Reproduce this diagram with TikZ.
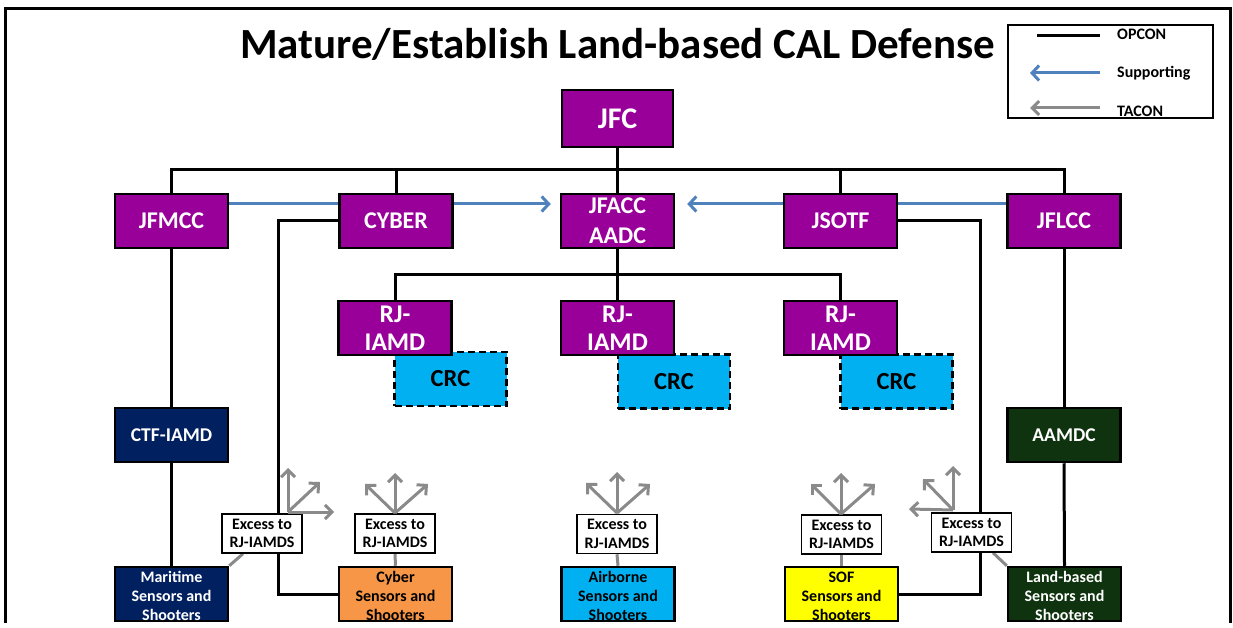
\documentclass[tikz,border=0pt]{standalone}
\usepackage{fontspec}
\setmainfont{Carlito}
\usetikzlibrary{arrows.meta,calc}
\definecolor{jpurple}{HTML}{990099}
\definecolor{jnavy}{HTML}{002060}
\definecolor{jgreen}{HTML}{0E330E}
\definecolor{jcyan}{HTML}{00B0F0}
\definecolor{jorange}{HTML}{F79646}
\definecolor{jyellow}{HTML}{FFFF00}
\definecolor{jblue}{HTML}{4F81BD}
\definecolor{jgray}{HTML}{8A8A8A}
\pgfdeclarelayer{background}
\pgfsetlayers{background,main}
\newcommand{\bottxt}[1]{\smash{\raisebox{-8.5pt}{\begin{tabular}{@{}c@{}}#1\end{tabular}}}}
\begin{document}
\begin{tikzpicture}[x=1pt,y=-1pt,
  boxbase/.style={draw=black,line width=2.5pt,inner sep=0pt,align=center,minimum width=113pt,minimum height=54pt},
  pbox/.style={boxbase,fill=jpurple,text=white,font=\bfseries\fontsize{24}{30}\selectfont},
  crcbox/.style={boxbase,fill=jcyan,text=black,dash pattern=on 7pt off 4pt,font=\bfseries\fontsize{24.5}{28}\selectfont,minimum width=112pt},
  midbox/.style={boxbase,text=white,font=\bfseries\fontsize{19.5}{22}\selectfont},
  sbox/.style={boxbase,font=\bfseries\fontsize{16}{19}\selectfont},
  excbox/.style={draw=black,line width=1.5pt,fill=white,inner sep=0pt,align=center,minimum width=80pt,minimum height=39pt,font=\bfseries\fontsize{16}{18.5}\selectfont},
  opcon/.style={draw=black,line width=3pt},
  support/.style={draw=jblue,line width=3pt,-{Straight Barb[length=7pt,width=15pt,line width=3pt]}},
  tacon/.style={draw=jgray,line width=3pt,-{Straight Barb[length=7pt,width=14pt,line width=3pt]}},
  taconline/.style={draw=jgray,line width=3pt},
  legtext/.style={anchor=west,inner sep=0pt,font=\bfseries\fontsize{16}{18}\selectfont}
]
\useasboundingbox (0,0) rectangle (1233,628);
\begin{scope}
\clip (-2,-2) rectangle (1235,622.5);
% frame
\draw[line width=3pt] (5.5,628) -- (5.5,8.5) -- (1230,8.5) -- (1230,628);
% title
\node[font=\bfseries\fontsize{43}{46}\selectfont,inner sep=0pt] (title) at (617.5,44) {Mature/Establish Land-based CAL Defense};
% legend
\node[draw=black,line width=1.5pt,minimum width=205pt,minimum height=93pt,inner sep=0pt] (legend) at (1110.5,71.5) {};
\coordinate (l1a) at (1037,36); \coordinate (l1b) at (1100,36);
\coordinate (l2a) at (1100,73); \coordinate (l2b) at (1030,73);
\coordinate (l3a) at (1100,108); \coordinate (l3b) at (1030,108);
\draw[opcon] (l1a) -- (l1b);
\draw[support] (l2a) -- (l2b);
\draw[tacon] (l3a) -- (l3b);
\node[legtext] (lop) at (1117,34) {OPCON};
\node[legtext] (lsu) at (1117,73) {Supporting};
\node[legtext] (lta) at (1117,111) {TACON};
% top
\node[pbox,font=\bfseries\fontsize{30}{34}\selectfont,minimum width=111pt,minimum height=57pt] (jfc) at (617.5,118.5) {JFC};
\node[pbox] (jfmcc) at (171.5,221) {JFMCC};
\node[pbox] (cyber) at (396,221) {CYBER};
\node[pbox] (jfacc) at (617.5,221) {JFACC\\AADC};
\node[pbox] (jsotf) at (840.5,221) {JSOTF};
\node[pbox] (jflcc) at (1064,221) {JFLCC};
% CRC then RJ
\node[crcbox] (crc1) at (450.5,379) {CRC};
\node[crcbox] (crc2) at (674,381.5) {CRC};
\node[crcbox] (crc3) at (896.5,381.5) {CRC};
\node[pbox,font=\bfseries\fontsize{25.5}{28}\selectfont] (rj1) at (395,328) {RJ-\\IAMD};
\node[pbox,font=\bfseries\fontsize{25.5}{28}\selectfont] (rj2) at (617.5,328) {RJ-\\IAMD};
\node[pbox,font=\bfseries\fontsize{25.5}{28}\selectfont] (rj3) at (840.5,328) {RJ-\\IAMD};
% middle
\node[midbox,fill=jnavy] (ctf) at (171.5,435) {CTF-IAMD};
\node[midbox,fill=jgreen] (aamdc) at (1064,435) {AAMDC};
% bottom
\node[sbox,fill=jnavy,text=white] (mar) at (171.5,594) {\bottxt{Maritime\\Sensors and\\Shooters}};
\node[sbox,fill=jorange,text=black] (cyss) at (395.5,594) {\bottxt{Cyber\\Sensors and\\Shooters}};
\node[sbox,fill=jcyan,text=black] (air) at (618,594) {\bottxt{Airborne\\Sensors and\\Shooters}};
\node[sbox,fill=jyellow,text=black] (sof) at (841.5,594) {\bottxt{SOF\\Sensors and\\Shooters}};
\node[sbox,fill=jgreen,text=white] (land) at (1064.5,594) {\bottxt{Land-based\\Sensors and\\Shooters}};
% excess boxes
\node[excbox] (e1) at (262,533.5) {Excess to\\RJ-IAMDS};
\node[excbox] (e2) at (395,533.5) {Excess to\\RJ-IAMDS};
\node[excbox] (e3) at (617,534) {Excess to\\RJ-IAMDS};
\node[excbox] (e4) at (841.5,534.5) {Excess to\\RJ-IAMDS};
\node[excbox] (e5) at (971.5,532.5) {Excess to\\RJ-IAMDS};
% connectors
\coordinate (bus) at (617.5,170);
\coordinate (rbus) at (617.5,274);
\coordinate (yb) at (0,204);
\coordinate (cyl) at (278,400);
\coordinate (sofl) at (980,400);
\coordinate (e1x) at (243,0);
\coordinate (e5x) at (993,0);
\begin{pgfonlayer}{background}
\draw[opcon] (jfc.south) -- (bus);
\draw[opcon] (jfmcc.north) -- (jfmcc.north |- bus) -- (jflcc.north |- bus) -- (jflcc.north);
\draw[opcon] (cyber.north) -- (cyber.north |- bus);
\draw[opcon] (jfacc.north) -- (jfacc.north |- bus);
\draw[opcon] (jsotf.north) -- (jsotf.north |- bus);
\draw[opcon] (jfacc.south) -- (rbus);
\draw[opcon] (rj1.north) -- (rj1.north |- rbus) -- (rj3.north |- rbus) -- (rj3.north);
\draw[opcon] (rj2.north) -- (rj2.north |- rbus);
\draw[opcon] (jfmcc.south) -- (ctf.north);
\draw[opcon] (ctf.south) -- (mar.north);
\draw[opcon] (jflcc.south) -- (aamdc.north);
\draw[opcon] (aamdc.south) -- (land.north);
\draw[opcon] (cyber.west) -| (cyl) |- (cyss.west);
\draw[opcon] (jsotf.east) -| (sofl) |- (sof.east);
\draw[support,shorten >=9pt] (jfmcc.east |- yb) -- (jfacc.west |- yb);
\draw[support,shorten >=12pt] (jflcc.west |- yb) -- (jfacc.east |- yb);
\draw[taconline] (e1x |- e1.south) -- (mar.north east);
\draw[taconline] (e2.south) -- (cyss.north);
\draw[taconline] (e3.south) -- (air.north);
\draw[taconline] (e4.south) -- (sof.north);
\draw[taconline] (e5x |- e5.south) -- (land.north west);
\end{pgfonlayer}
% TACON arrow fans
\coordinate (o1) at (288,512);
\draw[tacon] (o1) -- (288,468); \draw[tacon] (o1) -- (320,482); \draw[tacon] (o1) -- (334,512);
\coordinate (o2) at (395,513);
\draw[tacon] (o2) -- (395,473); \draw[tacon] (o2) -- (365,484); \draw[tacon] (o2) -- (428,484);
\coordinate (o3) at (617,513);
\draw[tacon] (o3) -- (617,472); \draw[tacon] (o3) -- (586,483); \draw[tacon] (o3) -- (650,484);
\coordinate (o4) at (841,514);
\draw[tacon] (o4) -- (841,473); \draw[tacon] (o4) -- (811,484); \draw[tacon] (o4) -- (875,484);
\coordinate (o5) at (953,510);
\draw[tacon] (o5) -- (953,466); \draw[tacon] (o5) -- (923,479); \draw[tacon] (o5) -- (909,509);
\end{scope}
\end{tikzpicture}
\end{document}
